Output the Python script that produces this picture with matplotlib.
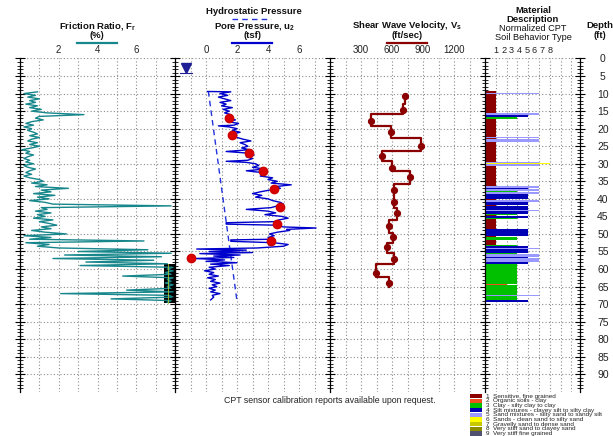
import numpy as np
import matplotlib
matplotlib.use("Agg")
import matplotlib.pyplot as plt
from matplotlib.ticker import MultipleLocator
from matplotlib.lines import Line2D
from matplotlib.patches import Rectangle

plt.rcParams['font.family'] = ['Liberation Sans', 'DejaVu Sans']

# ---------------- data ----------------
fr_depth = [9.5, 10, 10.5, 11, 11.5, 12, 12.5, 13, 13.5, 14, 14.5, 15, 15.5, 16, 16.5, 17, 17.5, 18, 18.5, 19,
            19.5, 20, 20.5, 21, 21.5, 22, 22.5, 23, 23.5, 24, 24.5, 25, 25.5, 26, 26.5, 27, 27.5, 28, 28.5, 29,
            29.5, 30, 30.5, 31, 31.5, 32, 32.5, 33, 33.5, 34, 34.5, 35, 35.5, 36, 36.5, 37, 37.5, 38, 38.5, 39,
            39.5, 40, 40.5, 41, 41.5, 42, 42.5, 43, 43.5, 44, 44.5, 45, 45.5, 46, 46.5, 47, 47.5, 48, 48.5, 49,
            49.5, 50, 50.5, 51, 51.5, 52, 52.5, 53, 53.5, 54, 54.5, 55, 55.5, 56, 56.5, 57, 57.5, 58, 58.5, 59,
            59.5, 60, 60.5, 61, 61.5, 62, 62.5, 63, 63.5, 64, 64.5, 65, 65.5, 66, 66.5, 67, 67.5, 68, 68.5, 69, 69.5]
fr_value = [0.9, 0.2, 0.8, 0.4, 1.0, 0.5, 0.8, 0.3, 0.9, 0.5, 1.1, 0.6, 1.4, 3.3, 1.0, 0.8, 1.2, 0.6, 0.3, 0.7,
            0.2, 0.6, 0.4, 0.7, 0.9, 0.5, 1.0, 0.6, 0.4, 0.9, 0.5, 1.0, 0.6, 0.1, 0.5, 0.3, 0.7, 0.4, 0.2, 0.5,
            0.3, 0.7, 0.2, 0.4, 0.8, 0.5, 0.3, 0.6, 0.2, 0.5, 1.0, 1.2, 0.6, 1.4, 0.8, 2.5, 1.1, 1.6, 0.7, 1.8,
            0.9, 1.5, 0.5, 1.3, 1.7, 7.8, 1.1, 1.4, 0.8, 1.6, 0.9, 1.3, 0.7, 1.7, 1.0, 1.5, 1.9, 1.1, 1.6, 0.6,
            1.3, 2.4, 0.2, 1.6, 0.5, 6.4, 0.3, 1.5, 0.9, 2.0, 6.6, 3.0, 7.8, 2.3, 7.3, 1.7, 6.9, 3.4, 7.6, 3.1,
            7.9, 7.6, 7.9, 7.5, 7.8, 5.3, 7.9, 7.6, 7.8, 7.5, 7.9, 7.6, 7.8, 5.5, 7.9, 2.1, 7.7, 7.9, 4.7, 7.8, 7.6]
fr_offscale_depth = [58.5, 69.6]
fr_offscale_left = 7.45
fr_offscale_right = 8.0

u2_depth = [9.4, 9.5, 10, 10.5, 11, 11.5, 12, 12.5, 13, 13.5, 14, 14.5, 15, 15.5, 16, 16.5, 17, 17.5, 18, 18.5,
            19, 19.2, 19.5, 20, 20.5, 21, 21.5, 22, 22.5, 23, 23.5, 24, 24.5, 25, 25.5, 26, 26.5, 27, 27.5, 28,
            28.5, 29, 29.3, 29.6, 30, 30.5, 31, 31.5, 32, 32.5, 33, 33.5, 34, 34.5, 35, 35.5, 36, 36.5, 37, 37.5,
            38, 38.5, 39, 39.5, 40, 40.5, 41, 41.5, 42, 42.5, 43, 43.5, 44, 44.5, 45, 45.5, 46, 46.5, 46.8, 47.2,
            47.5, 48, 48.3, 48.7, 49, 49.5, 50, 50.5, 51, 51.5, 51.7, 52.1, 52.5, 53, 53.5, 54, 54.3, 54.6, 55,
            55.3, 55.6, 56, 56.3, 56.7, 57, 57.4, 57.8, 58.2, 58.6, 59, 59.5, 60, 60.5, 61, 61.5, 62, 62.5, 63,
            63.5, 64, 64.5, 65, 65.5, 66, 66.5, 67, 67.5, 68, 68.8]
u2_value = [0.1, 1.6, 0.9, 1.4, 0.8, 1.2, 1.6, 0.9, 1.3, 1.0, 1.7, 1.1, 1.5, 1.2, 1.6, 1.3, 1.5, 1.9, 1.4, 2.1,
            1.8, 0.8, 1.5, 2.0, 1.7, 2.2, 1.8, 1.6, 2.0, 2.4, 2.9, 2.2, 2.5, 2.7, 2.3, 2.8, 1.3, 2.8, 3.1, 2.6,
            3.0, 2.7, 1.3, 2.6, 3.2, 3.4, 3.0, 3.8, 2.6, 3.6, 3.9, 3.5, 4.3, 4.0, 4.6, 4.2, 5.5, 4.5, 4.8, 4.1,
            3.5, 3.0, 3.6, 3.2, 4.0, 4.3, 4.8, 5.0, 4.6, 4.2, 2.6, 4.0, 4.5, 3.8, 4.9, 5.3, 4.7, 4.4, 1.3, 1.3,
            4.5, 5.0, 7.1, 5.2, 5.4, 4.6, 4.1, 4.4, 4.0, 4.3, 1.6, 1.6, 4.4, 5.3, 5.0, 3.3, -0.6, 2.6, 0.2,
            3.0, -0.4, 2.2, 0.5, 1.8, -0.7, 1.2, 0.0, 2.0, 0.3, 1.5, 0.2, 0.6, -0.1, 0.5, 0.2, 0.8, 0.1, 0.6,
            0.3, 0.9, 0.4, 0.7, 0.2, 0.6, 0.3, 0.9, 0.4, 0.5, 0.3]
hydro_depth = [9.3, 68.5]
hydro_u = [0.15, 1.98]
u2_dot_depth = [16.9, 21.7, 26.9, 32.0, 37.1, 42.3, 47.1, 52.0, 56.9]
u2_dot_value = [1.5, 1.7, 2.8, 3.7, 4.4, 4.8, 4.6, 4.2, -1.0]
water_depth = 2.6
water_u = -1.3

vs_bounds = [10.4, 12.9, 15.8, 19.1, 22.7, 26.3, 29.3, 32.2, 35.7, 39.3, 42.5, 46.0, 49.6, 52.6, 55.5, 58.6, 62.4, 65.0]
vs_values = [726, 703, 394, 587, 877, 500, 603, 774, 619, 622, 645, 574, 606, 548, 622, 442, 571]
vs_marker_depth = [10.8, 14.8, 17.9, 20.9, 24.8, 27.9, 31.1, 33.9, 37.6, 41.0, 43.9, 47.7, 50.8, 53.8, 57.0, 61.0, 63.9]

sbt_top = [9.3, 9.8, 10.0, 11.7, 11.9, 15.5, 16.2, 16.8, 17.3, 22.3, 22.6, 23.0, 23.8, 29.5, 29.75, 29.95,
           30.5, 36.2, 37.0, 37.3, 37.8, 38.1, 38.5, 40.1, 40.4, 41.0, 41.8, 42.1, 43.3, 43.6, 44.3, 44.6,
           45.0, 45.4, 45.7, 48.6, 50.5, 51.0, 51.6, 52.2, 52.4, 53.2, 53.5, 54.0, 54.3, 55.5, 55.8, 56.6,
           56.9, 58.0, 58.5, 64.2, 64.5, 67.4, 67.7, 68.9]
sbt_bottom = [9.8, 10.0, 11.7, 11.9, 15.5, 16.2, 16.8, 17.3, 22.3, 22.6, 23.0, 23.8, 29.5, 29.75, 29.95, 30.5,
              36.2, 37.0, 37.3, 37.8, 38.1, 38.5, 40.1, 40.4, 41.0, 41.8, 42.1, 43.3, 43.6, 44.3, 44.6, 45.0,
              45.4, 45.7, 48.6, 50.5, 51.0, 51.6, 52.2, 52.4, 53.2, 53.5, 54.0, 54.3, 55.5, 55.8, 56.6, 56.9,
              58.0, 58.5, 64.2, 64.5, 67.4, 67.7, 68.9, 69.4]
sbt_zone = [1, 5, 1, 5, 1, 5, 4, 3, 1, 5, 1, 5, 1, 5, 6, 5,
            1, 5, 4, 5, 3, 5, 4, 1, 5, 4, 1, 4, 5, 4, 3, 1,
            4, 3, 1, 4, 1, 3, 1, 2, 1, 3, 4, 5, 4, 3, 5, 4,
            5, 4, 3, 2, 3, 5, 3, 4]
sbt_colors = ['#8B0000', '#F0501E', '#00C000', '#0000B4', '#9999FF', '#FFFF00', '#C8C800', '#8C8C00', '#505070']
sbt_names = ['Sensitive, fine grained', 'Organic soils - clay', 'Clay - silty clay to clay',
             'Silt mixtures - clayey silt to silty clay', 'Sand mixtures - silty sand to sandy silt',
             'Sands - clean sand to silty sand', 'Gravelly sand to dense sand',
             'Very stiff sand to clayey sand', 'Very stiff fine grained']

fr_ticks = [2, 4, 6]
u2_ticks = [0, 2, 4, 6]
vs_ticks = [300, 600, 900, 1200]
sbt_tick_labels = ['1', '2', '3', '4', '5', '6', '7', '8']
depth_ticks = list(range(0, 95, 5))

# ---------------- figure ----------------
W, H = 613.0, 436.0
fig = plt.figure(figsize=(W / 100, H / 100), dpi=100)

top_px, bot_px = 58.5, 391.5
b = 1 - bot_px / H
h = (bot_px - top_px) / H


def fx(px):
    return px / W


def fy(py):
    return 1 - py / H


ax1 = fig.add_axes([fx(20), b, fx(155), h])
ax2 = fig.add_axes([fx(175), b, fx(155), h])
ax3 = fig.add_axes([fx(330), b, fx(155), h])
ax4 = fig.add_axes([fx(485), b, fx(95), h])

grid_kw = dict(color='#8a8a8a', linestyle=(0, (1, 2)), linewidth=0.8)

for ax in (ax1, ax2, ax3, ax4):
    ax.set_ylim(94.9, 0)
    ax.yaxis.set_major_locator(MultipleLocator(5))
    ax.yaxis.set_minor_locator(MultipleLocator(1))
    ax.xaxis.tick_top()
    ax.tick_params(axis='x', which='both', length=0, pad=2.5, labelsize=7, colors='#222222')
    ax.tick_params(axis='y', which='major', direction='inout', length=7, width=0.8, labelleft=False)
    ax.tick_params(axis='y', which='minor', direction='inout', length=4, width=0.6)
    ax.grid(axis='y', which='major', **grid_kw)
    ax.spines['top'].set_visible(False)
    ax.spines['bottom'].set_visible(False)
    ax.spines['right'].set_visible(False)
    ax.spines['left'].set_linewidth(0.9)
    ax.set_axisbelow(True)

# friction ratio
ax1.set_xlim(0, 8)
ax1.set_xticks(fr_ticks)
ax1.xaxis.set_minor_locator(MultipleLocator(1))
ax1.grid(axis='x', which='both', **grid_kw)
ax1.plot(fr_value, fr_depth, color='#17878C', lw=1.0)
ax1.fill_betweenx(fr_offscale_depth, fr_offscale_left, fr_offscale_right, color='black', lw=0)
ax1.plot([7.62, 7.62], fr_offscale_depth, color='#A8C832', lw=0.6)

# pore pressure
ax2.set_xlim(-2, 8)
ax2.set_xticks(u2_ticks)
ax2.xaxis.set_minor_locator(MultipleLocator(1))
ax2.grid(axis='x', which='both', **grid_kw)
ax2.plot(hydro_u, hydro_depth, color='#2233DD', lw=1.0, dashes=(4, 3))
ax2.plot(u2_value, u2_depth, color='#0000CC', lw=1.0)
ax2.plot(u2_dot_value, u2_dot_depth, 'o', color='#DD0000', ms=6, mec='#CC0000')
ax2.plot([water_u], [water_depth], 'v', color='#1E1E96', ms=7)
ax2.plot([water_u - 0.4, water_u + 0.4], [water_depth + 1.6] * 2, color='#1E1E96', lw=0.8)

# shear wave velocity
ax3.set_xlim(0, 1500)
ax3.set_xticks(vs_ticks)
ax3.xaxis.set_minor_locator(MultipleLocator(150))
ax3.grid(axis='x', which='both', **grid_kw)
vs_x = np.repeat(vs_values, 2)
vs_y = np.column_stack([vs_bounds[:-1], vs_bounds[1:]]).ravel()
ax3.plot(vs_x, vs_y, color='#8B0000', lw=1.6)
ax3.plot(vs_values, vs_marker_depth, 'o', color='#8B0000', ms=4.2)

# SBT
ax4.set_xlim(0, 8.8)
sbt_pos = [1.02 + 0.713 * i for i in range(len(sbt_tick_labels))]
ax4.set_xticks(sbt_pos)
ax4.set_xticklabels(sbt_tick_labels)
ax4.tick_params(axis='x', labelsize=6.6)
ax4.xaxis.set_minor_locator(MultipleLocator(1))
ax4.xaxis.remove_overlapping_locs = False
ax4.grid(axis='x', which='minor', **grid_kw)
centers = [(t + bt) / 2 for t, bt in zip(sbt_top, sbt_bottom)]
heights = [bt - t for t, bt in zip(sbt_top, sbt_bottom)]
ax4.barh(centers, sbt_zone, height=heights, left=0,
         color=[sbt_colors[z - 1] for z in sbt_zone], linewidth=0)
ax4.spines['right'].set_visible(True)
ax4.spines['right'].set_linewidth(0.9)
ax4.tick_params(axis='y', which='both', left=True, right=True, labelleft=False, labelright=True)
ax4.set_yticks(depth_ticks)
ax4.tick_params(axis='y', which='major', labelsize=7.5, pad=13, labelcolor='#222222')
for lbl in ax4.get_yticklabels():
    lbl.set_ha('center')

# ---------------- headers ----------------
hdr = dict(ha='center', va='center', fontsize=6.8, fontweight='bold', color='#111111')
fig.text(fx(97), fy(26), 'Friction Ratio, F$_\\mathregular{r}$', **hdr)
fig.text(fx(97), fy(35.5), '(%)', **hdr)
fig.add_artist(Line2D([fx(77), fx(117)], [fy(43)] * 2, color='#17878C', lw=1.6))

fig.text(fx(254), fy(11.5), 'Hydrostatic Pressure', **hdr)
fig.add_artist(Line2D([fx(232), fx(271)], [fy(19.5)] * 2, color='#2233DD', lw=1.0, dashes=(4, 3)))
fig.text(fx(255), fy(26), 'Pore Pressure, u$_\\mathregular{2}$', **hdr)
fig.text(fx(252), fy(35.5), '(tsf)', **hdr)
fig.add_artist(Line2D([fx(232), fx(272)], [fy(43)] * 2, color='#0000CC', lw=1.6))

fig.text(fx(407), fy(26), 'Shear Wave Velocity, V$_\\mathregular{s}$', **hdr)
fig.text(fx(407), fy(35.5), '(ft/sec)', **hdr)
fig.add_artist(Line2D([fx(387), fx(427)], [fy(43)] * 2, color='#8B0000', lw=1.6))

fig.text(fx(533), fy(10.5), 'Material', **hdr)
fig.text(fx(533), fy(19.5), 'Description', **hdr)
norm = dict(ha='center', va='center', fontsize=6.6, color='#111111')
fig.text(fx(533), fy(28.5), 'Normalized CPT', **norm)
fig.text(fx(533), fy(37.5), 'Soil Behavior Type', **norm)

fig.text(fx(600), fy(26), 'Depth', **hdr)
fig.text(fx(600), fy(35.5), '(ft)', **hdr)

fig.text(fx(330), fy(400), 'CPT sensor calibration reports available upon request.',
         ha='center', va='center', fontsize=6.3, color='#222222')

# ---------------- legend ----------------
for i, (c, name) in enumerate(zip(sbt_colors, sbt_names)):
    yc = 396 + 4.7 * i
    fig.add_artist(Rectangle((fx(470), fy(yc + 2.2)), fx(12), 4.4 / H, color=c, lw=0,
                             transform=fig.transFigure))
    fig.text(fx(486), fy(yc), f'{i + 1}  {name}', ha='left', va='center', fontsize=4.6, color='#222222')

fig.savefig('out.png', dpi=100)
